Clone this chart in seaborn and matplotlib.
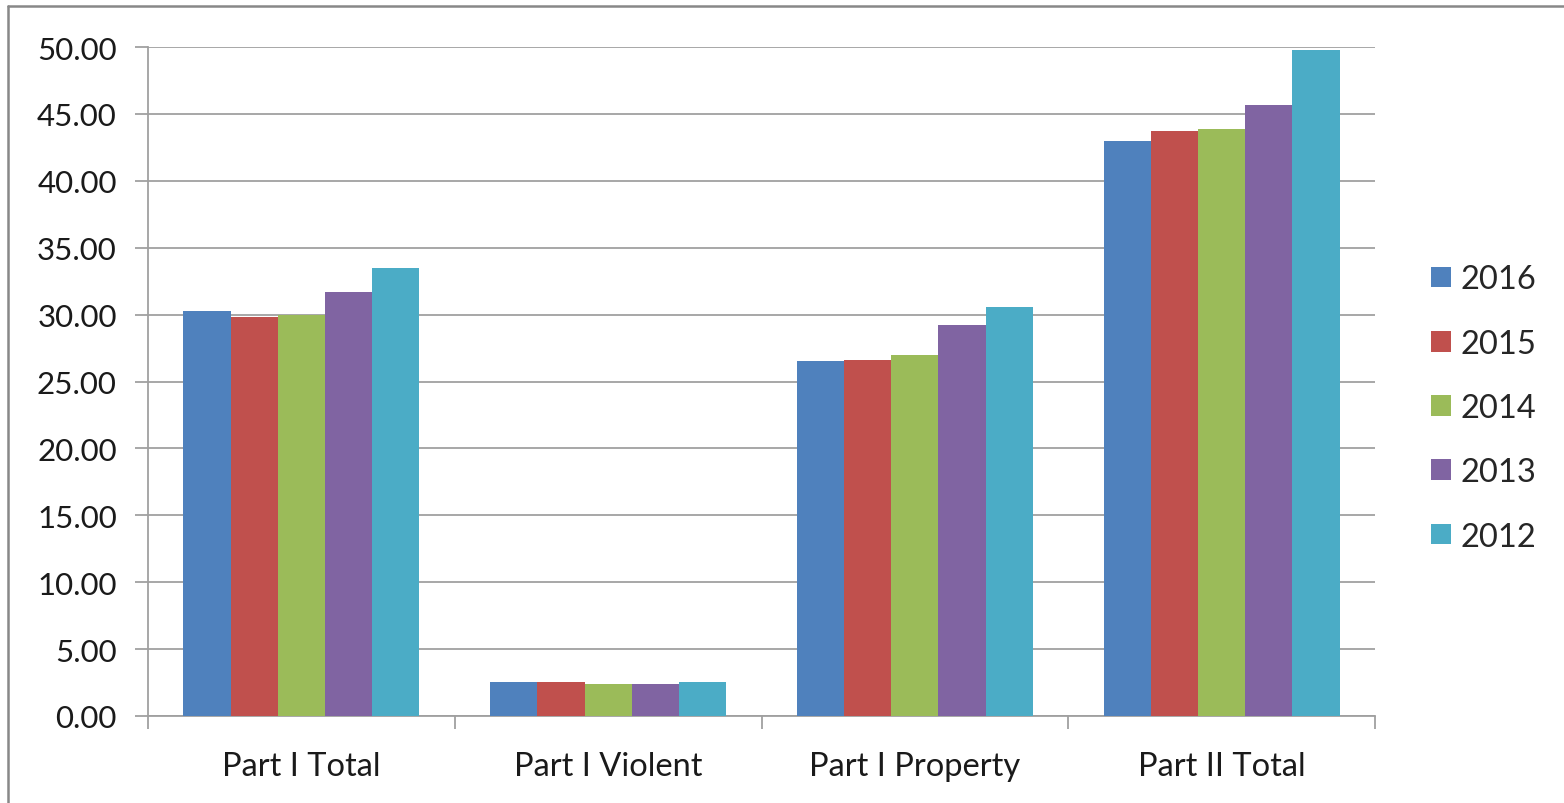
import matplotlib
matplotlib.use("Agg")
import matplotlib.pyplot as plt
from matplotlib.lines import Line2D
from matplotlib.patches import Patch
import seaborn as sns
import pandas as pd

categories = ["Part I Total", "Part I Violent", "Part I Property", "Part II Total"]
years = ["2016", "2015", "2014", "2013", "2012"]
v2016 = [30.30, 2.52, 26.50, 42.95]
v2015 = [29.80, 2.53, 26.62, 43.72]
v2014 = [29.97, 2.40, 27.00, 43.85]
v2013 = [31.72, 2.40, 29.25, 45.70]
v2012 = [33.47, 2.52, 30.58, 49.75]
colors = ["#4F81BD", "#C0504D", "#9BBB59", "#8064A2", "#4BACC6"]
yticks = [0, 5, 10, 15, 20, 25, 30, 35, 40, 45, 50]

series = [v2016, v2015, v2014, v2013, v2012]
rows = []
for y, vals in zip(years, series):
    for c, v in zip(categories, vals):
        rows.append({"category": c, "year": y, "value": v})
df = pd.DataFrame(rows)

sns.set_style("white")
plt.rcParams["font.family"] = ["Lato", "DejaVu Sans"]

W, H = 1564, 804
fig = plt.figure(figsize=(W / 100, H / 100), dpi=100)
ax = fig.add_axes([148 / W, 1 - 717 / H, (1375 - 148) / W, (717 - 48) / H])

sns.barplot(data=df, x="category", y="value", hue="year", order=categories,
            hue_order=years, palette=colors, width=0.77, saturation=1,
            linewidth=0, ax=ax, legend=False, zorder=3)

ax.set_xlim(-0.5, 3.5)
ax.set_ylim(0, 50)
ax.set_yticks(yticks)
ax.set_yticklabels([f"{t:.2f}" for t in yticks])
ax.set_xlabel("")
ax.set_ylabel("")

grid_c = "#a0a0a0"
ax.yaxis.grid(True, color=grid_c, linewidth=1.3, zorder=0)
ax.set_axisbelow(True)
for s in ["top", "right"]:
    ax.spines[s].set_visible(False)
for s in ["left", "bottom"]:
    ax.spines[s].set_color(grid_c)
    ax.spines[s].set_linewidth(1.3)

ax.tick_params(axis="y", which="major", left=True, length=9.5, width=1.3,
               color=grid_c, pad=13, labelsize=22.5, labelcolor="#1a1a1a")
ax.set_xticks([-0.5, 0.5, 1.5, 2.5, 3.5], minor=True)
ax.tick_params(axis="x", which="minor", bottom=True, length=9, width=1.3,
               color=grid_c)
ax.tick_params(axis="x", which="major", bottom=False, length=0, pad=25,
               labelsize=23.5, labelcolor="#1a1a1a")

handles = [Patch(facecolor=c, edgecolor="none") for c in colors]
fig.legend(handles, years, loc="center left",
           bbox_to_anchor=(1418 / W, 1 - 409 / H), frameon=False,
           fontsize=23.5, handlelength=0.6, handleheight=0.6,
           handletextpad=0.3, labelspacing=1.05, borderaxespad=0)

# outer chart frame
frame_c = "#888888"
fig.add_artist(Line2D([8 / W, 8 / W], [0, 1 - 7 / H], transform=fig.transFigure,
                      color=frame_c, linewidth=1.8))
fig.add_artist(Line2D([8 / W, 1], [1 - 7 / H, 1 - 7 / H], transform=fig.transFigure,
                      color=frame_c, linewidth=1.8))

fig.savefig("out.png", dpi=100, facecolor="white")
